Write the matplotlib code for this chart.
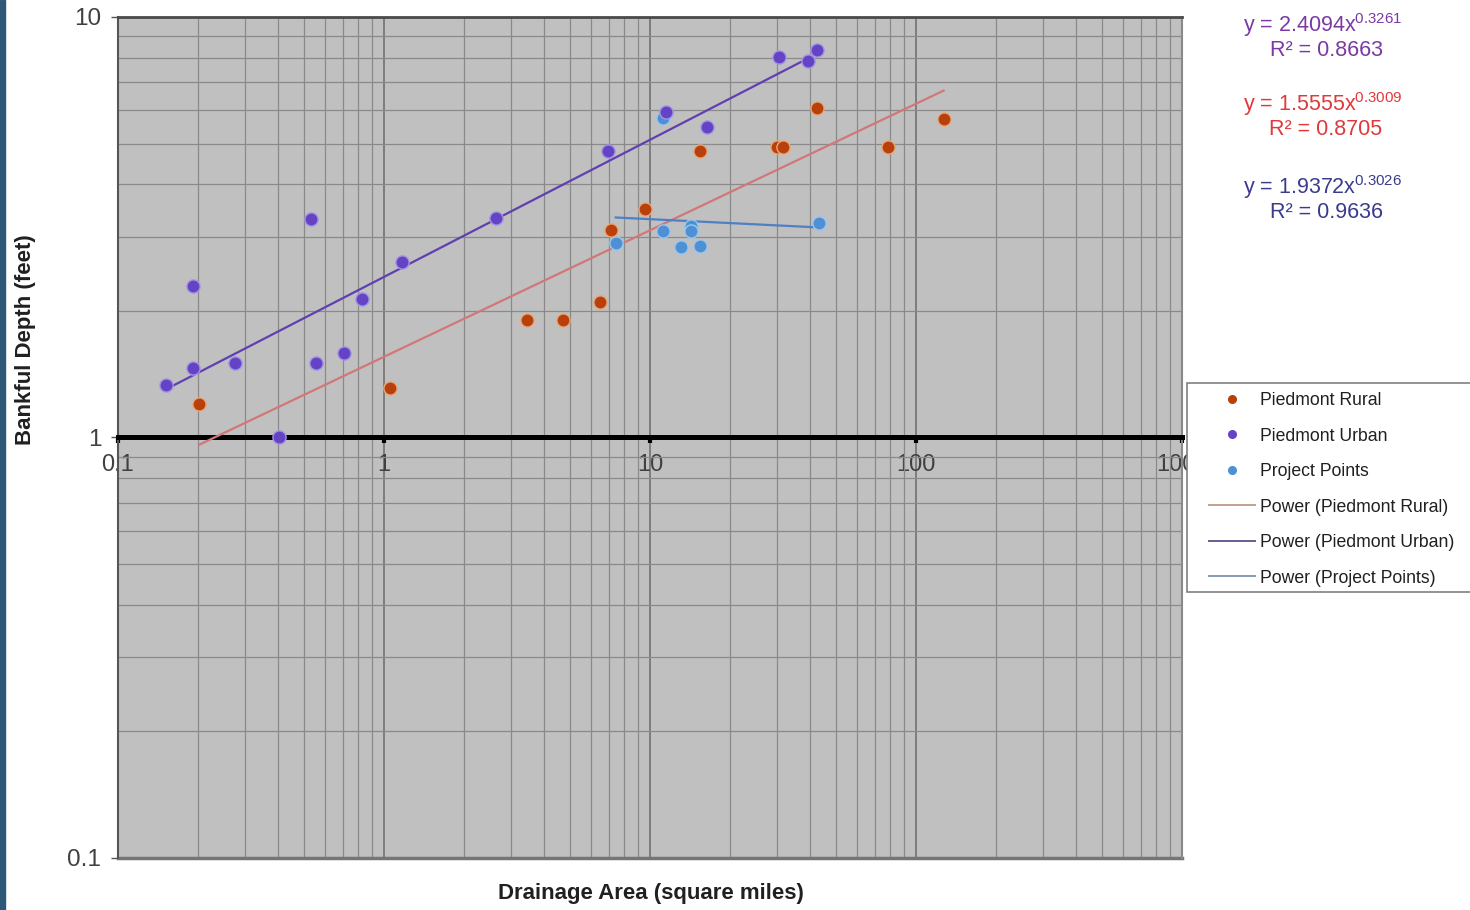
import numpy as np
import matplotlib.pyplot as plt
from matplotlib.lines import Line2D
from matplotlib.patches import Rectangle
from matplotlib.ticker import NullFormatter

plt.rcParams['font.family'] = ['Liberation Sans', 'DejaVu Sans']
plt.rcParams['mathtext.fontset'] = 'custom'
plt.rcParams['mathtext.rm'] = 'Liberation Sans'
plt.rcParams['mathtext.default'] = 'regular'

# data (drainage area sq mi, bankful depth ft)
rural_x = [0.202, 1.05, 3.45, 4.70, 6.49, 7.16, 9.58, 15.4, 29.9, 31.5, 42.6, 78.3, 127]
rural_y = [1.20, 1.31, 1.90, 1.90, 2.10, 3.11, 3.50, 4.80, 4.91, 4.91, 6.09, 4.90, 5.71]

urban_x = [0.151, 0.191, 0.191, 0.275, 0.404, 0.530, 0.555, 0.706, 0.824, 1.17,
           2.63, 6.95, 11.5, 16.4, 30.6, 39.4, 42.6]
urban_y = [1.33, 2.29, 1.46, 1.50, 1.00, 3.31, 1.50, 1.59, 2.13, 2.61,
           3.32, 4.80, 5.94, 5.47, 8.02, 7.88, 8.33]

project_x = [7.43, 11.2, 11.2, 13.1, 14.2, 14.2, 15.4, 43.0]
project_y = [2.90, 5.74, 3.09, 2.84, 3.18, 3.09, 2.86, 3.24]

# power trendlines y = a * x^b
rural_fit = (1.5555, 0.3009)
urban_fit = (2.4094, 0.3261)
project_fit = (3.55, -0.031)

eq_texts = [r'y = 2.4094x$^{0.3261}$', r'y = 1.5555x$^{0.3009}$', r'y = 1.9372x$^{0.3026}$']
r2_texts = ['R² = 0.8663', 'R² = 0.8705', 'R² = 0.9636']
eq_colors = ['#7b3aa3', '#e0393a', '#3b3b8e']

x_ticks = [0.1, 1, 10, 100, 1000]
x_labels = ['0.1', '1', '10', '100', '1000']
y_ticks = [0.1, 1, 10]
y_labels = ['0.1', '1', '10']

c_rural, c_urban, c_proj = '#b8400c', '#6443c4', '#4d90d4'
l_rural, l_urban, l_proj = '#d07878', '#6040b0', '#4f80c4'

fig = plt.figure(figsize=(14.7, 9.1), dpi=100)
fig.patches.append(Rectangle((0, 0), 5 / 1470, 1, transform=fig.transFigure,
                             color='#2e5878', zorder=0))

ax = fig.add_axes([118 / 1470, 52 / 910, 1064 / 1470, 841 / 910])
ax.set_xscale('log')
ax.set_yscale('log')
ax.set_xlim(0.1, 1000)
ax.set_ylim(0.1, 10)
ax.set_facecolor('#c0c0c0')
ax.grid(True, which='major', color='#6a6a6a', lw=1.1)
ax.grid(True, which='minor', color='#8a8a8a', lw=0.9)
ax.set_axisbelow(True)

ax.set_xticks(x_ticks, x_labels)
ax.set_yticks(y_ticks, y_labels)
ax.xaxis.set_minor_formatter(NullFormatter())
ax.yaxis.set_minor_formatter(NullFormatter())
ax.tick_params(which='minor', length=0)
ax.tick_params(axis='x', which='major', length=4, width=3, color='black',
               labelsize=17, labelcolor='#404040', pad=8)
ax.tick_params(axis='y', which='major', length=5, width=1, color='#555555',
               labelsize=17.5, labelcolor='#404040', pad=7)

ax.spines['bottom'].set_position(('data', 1))
ax.spines['bottom'].set_linewidth(3.6)
ax.spines['bottom'].set_color('black')
ax.spines['left'].set_color('#555555')
ax.spines['left'].set_linewidth(1.5)
ax.spines['top'].set_color('#4a4a4a')
ax.spines['top'].set_linewidth(2)
ax.spines['right'].set_color('#8a8a8a')
ax.spines['right'].set_linewidth(1.5)
ax.axhline(0.1, color='#757575', lw=2.5, clip_on=False, zorder=2)

# trendlines
for xs, (a, b), col in [(rural_x, rural_fit, l_rural),
                        (urban_x, urban_fit, l_urban),
                        (project_x, project_fit, l_proj)]:
    xx = np.geomspace(min(xs), max(xs), 50)
    ax.plot(xx, a * xx ** b, color=col, lw=1.6, zorder=3)

ax.scatter(project_x, project_y, s=90, color=c_proj, edgecolors='#9cc6ec', linewidths=1, zorder=4)
ax.scatter(rural_x, rural_y, s=90, color=c_rural, edgecolors='#e8a878', linewidths=1, zorder=4)
ax.scatter(urban_x, urban_y, s=90, color=c_urban, edgecolors='#a494e4', linewidths=1, zorder=4)

fig.text(25 / 1470, 1 - 340 / 910, 'Bankful Depth (feet)', rotation=90,
         ha='center', va='center', fontsize=16, fontweight='bold', color='#202020')
fig.text(651 / 1470, 1 - 894 / 910, 'Drainage Area (square miles)',
         ha='center', va='center', fontsize=16, fontweight='bold', color='#202020')

eq_y = [25, 104, 187]
for i in range(3):
    fig.text(1323 / 1470, 1 - eq_y[i] / 910, eq_texts[i], ha='center', va='center',
             fontsize=15.5, color=eq_colors[i])
    fig.text(1326 / 1470, 1 - (eq_y[i] + 26) / 910, r2_texts[i], ha='center', va='center',
             fontsize=15.5, color=eq_colors[i])

# legend box runs off the right edge of the picture
fig.patches.append(Rectangle((1187 / 1470, 1 - 592 / 910), 300 / 1470, 209 / 910,
                             transform=fig.transFigure, facecolor='white',
                             edgecolor='#808080', lw=1.2, zorder=4))
handles = [
    Line2D([], [], ls='none', marker='o', ms=5.5, color=c_rural),
    Line2D([], [], ls='none', marker='o', ms=5.5, color=c_urban),
    Line2D([], [], ls='none', marker='o', ms=5.5, color=c_proj),
    Line2D([], [], color='#c0a090', lw=1.4),
    Line2D([], [], color='#6a5a98', lw=1.4),
    Line2D([], [], color='#8898b4', lw=1.4),
]
labels = ['Piedmont Rural', 'Piedmont Urban', 'Project Points',
          'Power (Piedmont Rural)', 'Power (Piedmont Urban)', 'Power (Project Points)']
leg = fig.legend(handles, labels, loc='upper left', bbox_to_anchor=(1202 / 1470, 1 - 385 / 910),
                 borderaxespad=0, fontsize=12.7, labelspacing=1.05, handlelength=2.6,
                 handletextpad=0.3, borderpad=0.4, frameon=False)
leg.set_zorder(5)
for t in leg.get_texts():
    t.set_color('#202020')

fig.savefig('out.png', dpi=100, facecolor='white')
